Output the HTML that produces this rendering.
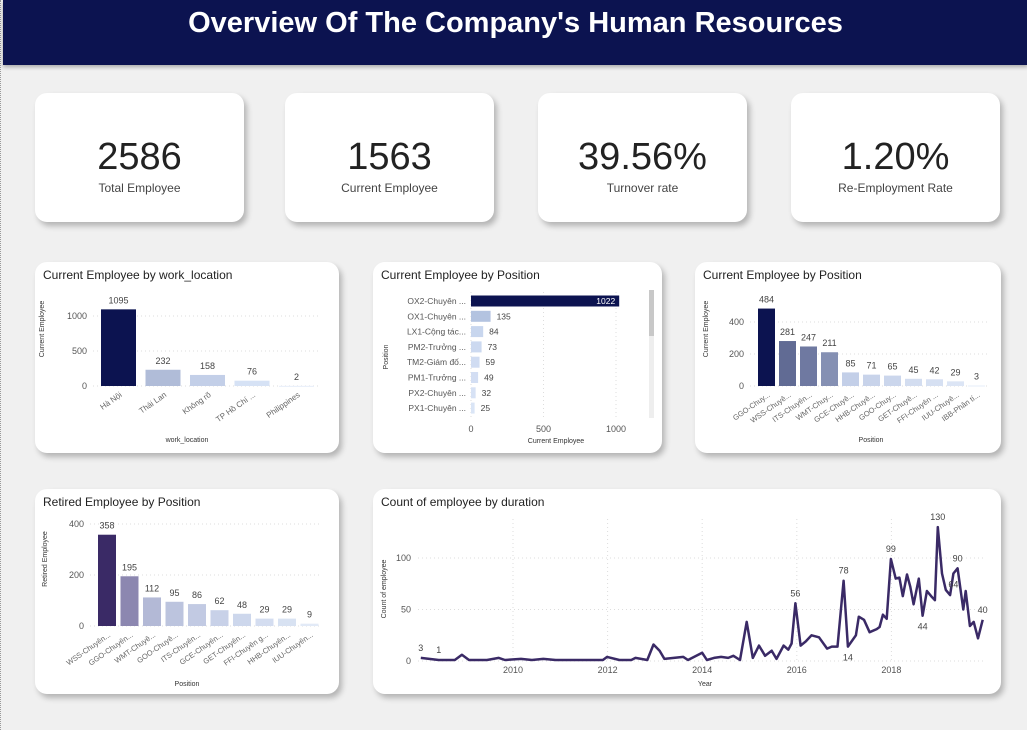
<!DOCTYPE html>
<html><head><meta charset="utf-8">
<style>
body{margin:0;width:1027px;height:730px;background:#f0f0f0;font-family:"Liberation Sans","Noto Sans CJK SC",sans-serif;position:relative;overflow:hidden;border-left:1px dotted #999;box-sizing:border-box}
.hdr{position:absolute;left:2px;top:0;width:1025px;height:65px;background:#0c1350;color:#fff;font-weight:bold;font-size:29px;text-align:center;line-height:46px;box-shadow:0 2px 4px rgba(0,0,0,.3)}
.card{position:absolute;background:#fff;border-radius:12px;box-shadow:3px 4px 6px rgba(0,0,0,.25)}
.kpi .n{position:absolute;width:100%;text-align:center;top:43px;font-size:38px;color:#222}
.kpi .l{position:absolute;width:100%;text-align:center;top:88px;font-size:12px;color:#444}
.t{position:absolute;left:8px;top:6px;font-size:12px;color:#222}
svg{position:absolute;left:0;top:0}
svg text{font-family:"Liberation Sans","Noto Sans CJK SC",sans-serif}
</style></head><body>
<div class="hdr">Overview Of The Company's Human Resources</div>
<div class="card kpi" style="left:34px;top:93px;width:209px;height:129px"><div class="n">2586</div><div class="l">Total Employee</div></div>
<div class="card kpi" style="left:284px;top:93px;width:209px;height:129px"><div class="n">1563</div><div class="l">Current Employee</div></div>
<div class="card kpi" style="left:537px;top:93px;width:209px;height:129px"><div class="n">39.56%</div><div class="l">Turnover rate</div></div>
<div class="card kpi" style="left:790px;top:93px;width:209px;height:129px"><div class="n">1.20%</div><div class="l">Re-Employment Rate</div></div>

<div class="card" id="c1" style="left:34px;top:262px;width:304px;height:191px"><div class="t">Current Employee by work_location</div></div>
<div class="card" id="c2" style="left:372px;top:262px;width:289px;height:191px"><div class="t">Current Employee by Position</div></div>
<div class="card" id="c3" style="left:694px;top:262px;width:306px;height:191px"><div class="t">Current Employee by Position</div></div>
<div class="card" id="c4" style="left:34px;top:489px;width:304px;height:205px"><div class="t">Retired Employee by Position</div></div>
<div class="card" id="c5" style="left:372px;top:489px;width:628px;height:205px"><div class="t">Count of employee by duration</div></div>

<script>
const locCats=["Hà Nội","Thái Lan","Không rõ","TP Hồ Chí ...","Philippines"];
const locVals=[1095,232,158,76,2];
const locTicks=[0,500,1000];
const hCats=["OX2-Chuyên ...","OX1-Chuyên ...","LX1-Cộng tác...","PM2-Trưởng ...","TM2-Giám đố...","PM1-Trưởng ...","PX2-Chuyên ...","PX1-Chuyên ..."];
const hVals=[1022,135,84,73,59,49,32,25];
const hTicks=[0,500,1000];
const posCats=["GGO-Chuy...","WSS-Chuyê...","ITS-Chuyên...","WMT-Chuy...","GCE-Chuyê...","HHB-Chuyê...","GOO-Chuy...","GET-Chuyê...","FFI-Chuyên ...","IUU-Chuyê...","IBB-Phân tí..."];
const posVals=[484,281,247,211,85,71,65,45,42,29,3];
const posTicks=[0,200,400];
const retCats=["WSS-Chuyên...","GGO-Chuyên...","WMT-Chuyê...","GOO-Chuyê...","ITS-Chuyên...","GCE-Chuyên...","GET-Chuyên...","FFI-Chuyên g...","HHB-Chuyên...","IUU-Chuyên..."];
const retVals=[358,195,112,95,86,62,48,29,29,9];
const retTicks=[0,200,400];
const durYears=[2008.05,2008.43,2008.77,2008.92,2009.07,2009.45,2009.7,2009.83,2010.17,2010.4,2010.64,2010.9,2011.9,2011.99,2012.25,2012.5,2012.59,2012.84,2012.97,2013.1,2013.2,2013.6,2013.7,2014.0,2014.1,2014.25,2014.4,2014.55,2014.66,2014.8,2014.94,2015.07,2015.2,2015.33,2015.47,2015.57,2015.72,2015.82,2015.89,2015.97,2016.08,2016.19,2016.31,2016.47,2016.64,2016.74,2016.86,2016.99,2017.08,2017.25,2017.31,2017.42,2017.54,2017.69,2017.75,2017.82,2017.9,2017.99,2018.09,2018.17,2018.24,2018.33,2018.4,2018.47,2018.58,2018.66,2018.75,2018.84,2018.92,2018.98,2019.07,2019.15,2019.24,2019.31,2019.4,2019.52,2019.57,2019.66,2019.74,2019.83,2019.93];
const durVals=[3,1,1,6,1,1,3,1,2,1,2,1,1,4,1,1,3,1,16,10,2,4,1,8,1,3,4,3,5,1,38,3,15,5,10,2,15,11,17,56,15,19,25,23,12,14,14,78,14,25,43,40,28,31,33,45,41,99,80,81,63,84,72,55,80,44,68,63,59,130,85,69,64,85,90,50,68,34,38,22,40];
const durTicks=[0,50,100];
const yearTicks=[2010,2012,2014,2016,2018];
const durLabels=[[0,"3"],[1,"1"],[39,"56"],[47,"78"],[48,"14"],[57,"99"],[65,"44"],[69,"130"],[73,"64"],[74,"90"],[80,"40"]];

const NS="http://www.w3.org/2000/svg";
function mk(par,tag,at,txt){const e=document.createElementNS(NS,tag);for(const k in at)e.setAttribute(k,at[k]);if(txt!==undefined)e.textContent=txt;par.appendChild(e);return e;}
function svgIn(id,w,h){const s=mk(document.getElementById(id),"svg",{width:w,height:h});return s;}
function grid(s,ticks,y,x0,x1){ticks.forEach(t=>{mk(s,"line",{x1:x0,x2:x1,y1:y(t),y2:y(t),stroke:"#ddd","stroke-dasharray":"1,3"});const tx=mk(s,"text",{x:x0-6,y:y(t)+3,"font-size":9,fill:"#555","text-anchor":"end"},t);});}
function ytitle(s,x,y,txt){const e=mk(s,"text",{x:x,y:y,"font-size":7,fill:"#333","text-anchor":"middle",transform:`rotate(-90 ${x} ${y})`},txt);}
function xtitle(s,x,y,txt){const e=mk(s,"text",{x:x,y:y,"font-size":7,fill:"#333","text-anchor":"middle"},txt);}
function vbars(id,w,h,cats,vals,ticks,max,x0,step,bw,base,ppu,cols,gx1,yt,xt,xtY,rotFont){
  const s=svgIn(id,w,h);const y=v=>base-v*ppu;
  grid(s,ticks,y,x0-8,gx1);
  cats.forEach((c,i)=>{const x=x0+i*step;
    const r=mk(s,"rect",{x:x,y:y(vals[i]),width:bw,height:Math.max(vals[i]*ppu,1),fill:cols[i]});
    
    const l=mk(s,"text",{x:x+bw/2,y:y(vals[i])-6,"font-size":9,fill:"#444","text-anchor":"middle"},vals[i]);
    
    const cx=x+bw/2+4,cy=base+10;
    const cl=mk(s,"text",{x:cx,y:cy,"font-size":rotFont,fill:"#666","text-anchor":"end",transform:`rotate(-35 ${cx} ${cy})`},c);
    
  });
  ytitle(s,yt[0],yt[1],yt[2]);xtitle(s,xt[0],xtY,xt[1]);
}
vbars("c1",304,191,locCats,locVals,locTicks,1100,66,44.5,35,124,0.07,["#0c1350","#b0bcd8","#c3cfe8","#d6e2f5","#e6eefa"],285,[9,67,"Current Employee"],[152,"work_location"],180,8);
vbars("c3",306,191,posCats,posVals,posTicks,500,63,21,17,124,0.16,["#0c1350","#616b94","#6f79a1","#8590b3","#c3cfe8","#c8d3ea","#cbd6ec","#d3ddf0","#d6e0f2","#dce5f5","#e6eefa"],294,[13,67,"Current Employee"],[176,"Position"],180,7.5);
vbars("c4",304,205,retCats,retVals,retTicks,400,63,22.5,18,137,0.255,["#3a2a66","#8c87b0","#b3b9d6","#bcc4de","#c2cae3","#c8d1e8","#cdd7ec","#d4ddf0","#d8e2f2","#e2eaf7"],285,[12,70,"Retired Employee"],[152,"Position"],197,7.5);

(function(){const s=svgIn("c2",289,191);const x0=98,ppu=0.145,x=v=>x0+v*ppu;
  hTicks.forEach(t=>{mk(s,"line",{x1:x(t),x2:x(t),y1:30,y2:158,stroke:"#ddd","stroke-dasharray":"1,3"});
    const e=mk(s,"text",{x:x(t),y:170,"font-size":9,fill:"#555","text-anchor":"middle"},t);});
  hCats.forEach((c,i)=>{const cy=39+i*15.3;
    const r=mk(s,"rect",{x:x0,y:cy-5.5,width:hVals[i]*ppu,height:11,fill:i==0?"#0c1350":["#b3c3e0","#c8d6ee","#ccd9f0","#d0dcf2","#d3def3","#d7e2f5","#dae5f6"][i-1]});
    
    const l=mk(s,"text",{x:x0-5,y:cy+3,"font-size":8.5,fill:"#555","text-anchor":"end"},c);
    const inside=i==0;const v=mk(s,"text",{x:inside?x(hVals[i])-4:x(hVals[i])+6,y:cy+3,"font-size":8.5,fill:inside?"#fff":"#444","text-anchor":inside?"end":"start"},hVals[i]);
    });
  const sb=mk(s,"rect",{x:276,y:28,width:5,height:128,fill:"#eee"});
  mk(s,"rect",{x:276,y:28,width:5,height:46,fill:"#c8c8c8"});
  ytitle(s,15,95,"Position");xtitle(s,183,181,"Current Employee");
})();

(function(){const s=svgIn("c5",628,205);const xs=yr=>140+(yr-2010)*47.3,ys=v=>172-v*1.03;
  durTicks.forEach(t=>{mk(s,"line",{x1:45,x2:612,y1:ys(t),y2:ys(t),stroke:"#ddd","stroke-dasharray":"1,3"});
    const e=mk(s,"text",{x:38,y:ys(t)+3,"font-size":9,fill:"#555","text-anchor":"end"},t);});
  yearTicks.forEach(t=>{mk(s,"line",{x1:xs(t),x2:xs(t),y1:30,y2:172,stroke:"#ddd","stroke-dasharray":"1,3"});
    const e=mk(s,"text",{x:xs(t),y:184,"font-size":9,fill:"#555","text-anchor":"middle"},t);});
  const p=mk(s,"path",{d:durYears.map((y,i)=>(i?"L":"M")+xs(y).toFixed(1)+","+ys(durVals[i]).toFixed(1)).join(""),fill:"none",stroke:"#3a2a66","stroke-width":2.5,"stroke-linejoin":"round"});
  
  durLabels.forEach(([i,t])=>{const below=(t=="14"||t=="44"||t=="64");
    const e=mk(s,"text",{x:xs(durYears[i]),y:below?ys(durVals[i])+14:ys(durVals[i])-7,"font-size":9,fill:"#444","text-anchor":"middle"},t);
    });
  ytitle(s,13,100,"Count of employee");xtitle(s,332,197,"Year");
})();
</script>
</body></html>
